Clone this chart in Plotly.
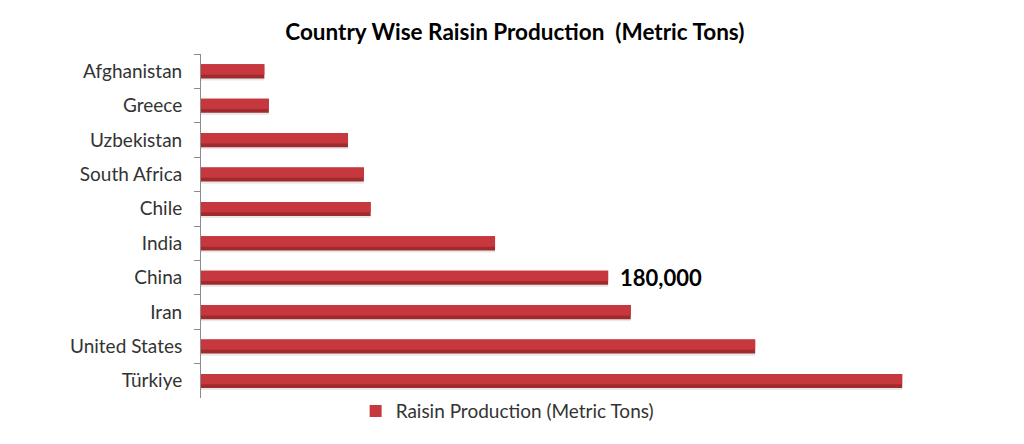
import plotly.graph_objects as go

# data
countries = ['Afghanistan', 'Greece', 'Uzbekistan', 'South Africa', 'Chile',
             'India', 'China', 'Iran', 'United States', 'Türkiye']
production = [28000, 30000, 65000, 72000, 75000,
              130000, 180000, 190000, 245000, 310000]
labelled = 'China'

series_name = 'Raisin Production (Metric Tons)'
font_family = 'Lato, Open Sans, sans-serif'

fig = go.Figure()

# soft shadow under each bar
fig.add_trace(go.Bar(
    y=countries, x=production, orientation='h',
    width=0.1, offset=0.17,
    marker=dict(color='rgba(0,0,0,0.09)', line=dict(width=0)),
    showlegend=False, hoverinfo='skip'
))

# darker base of the bar
fig.add_trace(go.Bar(
    y=countries, x=production, orientation='h',
    width=0.41, offset=-0.2,
    marker=dict(color='#A02B2F', line=dict(width=0)),
    showlegend=False, hoverinfo='skip'
))

# main face of the bar (legend item)
fig.add_trace(go.Bar(
    y=countries, x=production, orientation='h',
    width=0.3, offset=-0.2,
    name=series_name,
    marker=dict(color='#C6383D', line=dict(width=0)),
    hovertemplate='%{y}: %{x:,}<extra></extra>'
))

# value label on China
idx = countries.index(labelled)
fig.add_annotation(
    x=production[idx], y=labelled,
    text=f'{production[idx]:,}',
    showarrow=False, xanchor='left', yanchor='middle',
    xshift=10,
    font=dict(family=font_family, size=22, color='black', weight='bold')
)

fig.update_layout(
    width=1024, height=444,
    barmode='overlay',
    title=dict(
        text='Country Wise Raisin Production  (Metric Tons)',
        x=0.495, xanchor='center', y=0.946, yanchor='middle',
        font=dict(family=font_family, size=22.5, color='black', weight='bold')
    ),
    font=dict(family=font_family, size=19, color='#333333'),
    margin=dict(l=193, r=109, t=46, b=54),
    xaxis=dict(
        range=[0, 319200],
        showgrid=False, zeroline=False,
        showticklabels=False, showline=False, ticks=''
    ),
    yaxis=dict(
        autorange='reversed',
        showgrid=False, zeroline=False,
        showline=True, linecolor='#8C8C8C', linewidth=1,
        ticks='outside', ticklen=6, tickcolor='#8C8C8C',
        tickson='boundaries',
        ticklabelstandoff=14,
        tickfont=dict(family=font_family, size=19, color='#333333')
    ),
    legend=dict(
        orientation='h',
        x=0.424, xanchor='center',
        y=-0.038, yanchor='middle',
        font=dict(family=font_family, size=19, color='#333333'),
        itemwidth=30
    ),
    plot_bgcolor='white',
    paper_bgcolor='white'
)

fig.write_html('out.html')
